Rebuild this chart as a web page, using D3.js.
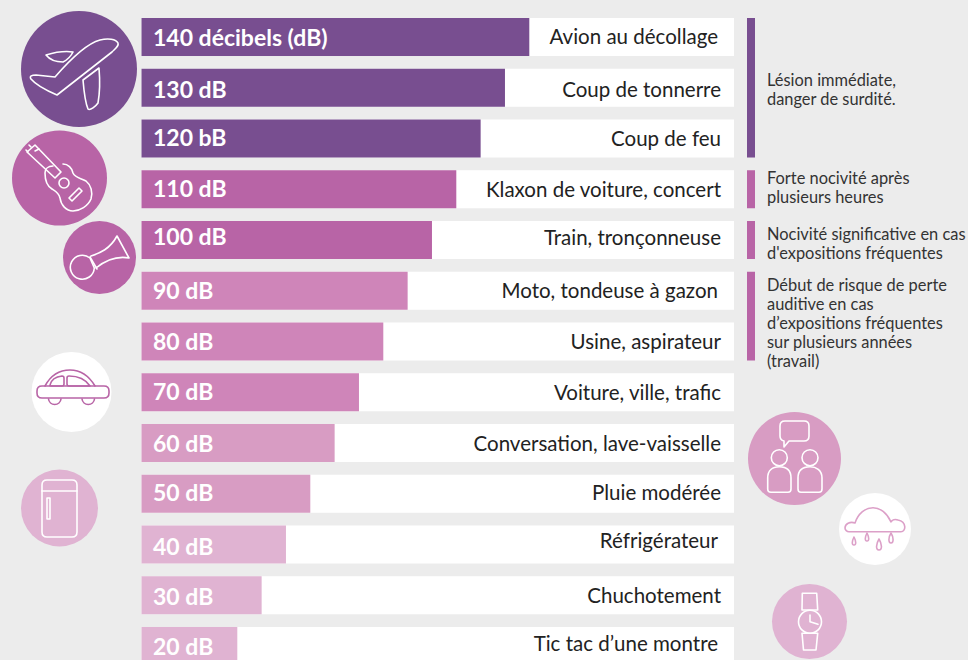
<!DOCTYPE html>
<html lang="fr">
<head>
<meta charset="utf-8">
<script src="https://cdn.jsdelivr.net/npm/d3@7"></script>
<style>
html, body { margin: 0; padding: 0; background: #ececec; overflow: hidden; }
text { font-family: "Lato", sans-serif; }
.icon { fill: none; stroke-linejoin: round; stroke-linecap: round; stroke-width: 1.6; }
</style>
</head>
<body>
<div id="chart"></div>
<script>
// data
var levels = [140, 130, 120, 110, 100, 90, 80, 70, 60, 50, 40, 30, 20];
var levelLabels = ["140 décibels (dB)", "130 dB", "120 bB", "110 dB", "100 dB", "90 dB", "80 dB",
	"70 dB", "60 dB", "50 dB", "40 dB", "30 dB", "20 dB"];
var sources = ["Avion au décollage", "Coup de tonnerre", "Coup de feu", "Klaxon de voiture, concert",
	"Train, tronçonneuse", "Moto, tondeuse à gazon", "Usine, aspirateur", "Voiture, ville, trafic",
	"Conversation, lave-vaisselle", "Pluie modérée", "Réfrigérateur", "Chuchotement", "Tic tac d’une montre"];
var barColors = ["#784e90", "#784e90", "#784e90", "#b864a6", "#b864a6", "#cf85b9", "#cf85b9",
	"#cf85b9", "#d89cc3", "#d89cc3", "#e0b3d2", "#e0b3d2", "#e0b3d2"];

// risk groups: first and last level of each bracket
var riskFrom = [140, 110, 100, 90];
var riskTo = [120, 110, 100, 80];
var riskColors = ["#784e90", "#b864a6", "#b864a6", "#b864a6"];
var riskLines = [
	["Lésion immédiate,", "danger de surdité."],
	["Forte nocivité après", "plusieurs heures"],
	["Nocivité significative en cas", "d'expositions fréquentes"],
	["Début de risque de perte", "auditive en cas", "d’expositions fréquentes", "sur plusieurs années", "(travail)"]
];

var width = 968, height = 660;
var rowLeft = 141.5, rowRight = 734;

// the labels were placed by hand in the original, they wander a little from row to row
var levelNudge = [1, 1.5, -1, -1, -3, 0, 0, -1, 1, -1, 2, 1, 1];
var sourceNudge = [0, 2, 0, 0, -2, 0, 0, 0, 1, -1, -4, 0, -2];
var sourceEnd = [718, 721, 721, 721, 721, 718, 721, 721, 721, 721, 718, 721, 718];
var riskNudge = [2, -2, 4, 7];

var svg = d3.select("#chart")
	.append("svg")
	.attr("width", width)
	.attr("height", height)
	.style("display", "block");

svg.append("rect")
	.attr("width", width)
	.attr("height", height)
	.attr("fill", "#ececec");

// the bars do not start at zero in the original, so the scale is anchored on the two end bars
var x = d3.scaleLinear()
	.domain([20, 140])
	.range([237.3, 529.3]);

var y = d3.scaleBand()
	.domain(levels)
	.range([18, 665])
	.paddingInner(0.251);

var rows = svg.selectAll("g.row")
	.data(levels)
	.enter()
	.append("g")
	.attr("class", "row")
	.attr("transform", function(d) { return "translate(0," + y(d) + ")"; });

rows.append("rect")
	.attr("x", rowLeft)
	.attr("width", rowRight - rowLeft)
	.attr("height", y.bandwidth())
	.attr("fill", "#fff");

rows.append("rect")
	.attr("x", rowLeft)
	.attr("width", function(d) { return x(d) - rowLeft; })
	.attr("height", y.bandwidth())
	.attr("fill", function(d, i) { return barColors[i]; });

rows.append("text")
	.attr("x", 153)
	.attr("y", function(d, i) { return y.bandwidth() / 2 + levelNudge[i]; })
	.attr("dy", "0.36em")
	.attr("fill", "#fff")
	.attr("font-size", 23)
	.attr("font-weight", 700)
	.text(function(d, i) { return levelLabels[i]; });

rows.append("text")
	.attr("x", function(d, i) { return sourceEnd[i]; })
	.attr("y", function(d, i) { return y.bandwidth() / 2 + sourceNudge[i]; })
	.attr("dy", "0.36em")
	.attr("text-anchor", "end")
	.attr("fill", "#222")
	.attr("font-size", 20.5)
	.text(function(d, i) { return sources[i]; });

// risk brackets on the right
var risks = svg.selectAll("g.risk")
	.data(riskFrom)
	.enter()
	.append("g")
	.attr("class", "risk");

risks.append("rect")
	.attr("x", 747)
	.attr("width", 8)
	.attr("y", function(d) { return y(d); })
	.attr("height", function(d, i) { return y(riskTo[i]) + y.bandwidth() - y(d); })
	.attr("fill", function(d, i) { return riskColors[i]; });

risks.each(function(d, i) {
	var mid = (y(d) + y(riskTo[i]) + y.bandwidth()) / 2 + riskNudge[i];
	var lines = riskLines[i];
	d3.select(this).selectAll("text")
		.data(lines)
		.enter()
		.append("text")
		.attr("x", 767)
		.attr("y", function(l, j) { return mid + (j - (lines.length - 1) / 2) * 19; })
		.attr("dy", "0.36em")
		.attr("fill", "#333")
		.attr("font-size", 16.4)
		.text(function(l) { return l; });
});

// pictograms
var icons = [
	{ cx: 79, cy: 69, r: 58, fill: "#784e90", stroke: "#fff", paths: [
		"M55 77 C68 62 85 44 100 40 C108 38 116 39 118 43 C119 46 116 48 112 52 L57 95 C50 92 36 85 31 79 C29 76 32 75 36 75 Z",
		"M46 55 C56 52 66 51 73 52 C71 56 67 60 63 62 C57 62 50 60 46 55 Z",
		"M99 68 L83 80 C84 92 85 102 88 109 C90 111 96 106 98 103 C100 92 100 80 99 68 Z"] },
	{ cx: 59.5, cy: 178, r: 47.5, fill: "#b864a6", stroke: "#fff", paths: [
		"M27 152 L35 145 L61 172 L55 178 Z",
		"M31 147 L29 145 M35 151 L39 149 M28 152 L26 150",
		"M53 166 C48 166 45 169 45 173 C45 180 47 186 52 189 C55 191 59 193 60 198 C61 205 66 211 73 211 C80 211 88 206 91 199 C93 192 91 185 86 181 C81 178 75 178 73 173 C72 168 68 164 63 164",
		"M69 183 A5 5 0 1 1 59 183 A5 5 0 1 1 69 183 Z",
		"M69 198 L79 188 L82 191 L72 201 Z"] },
	{ cx: 99.5, cy: 257.5, r: 36.5, fill: "#b864a6", stroke: "#fff", paths: [
		"M94.3 268 A12 12 0 1 1 90 258 Z",
		"M90 257 L97 269 M91 256 C100 253 110 249 117 236 L129 258 C118 256 106 260 96 268"] },
	{ cx: 71.5, cy: 392, r: 40, fill: "#fff", stroke: "#b864a6", paths: [
		"M42 386 H104 Q109 386 109 391 V393 Q109 398 104 398 H42 Q37 398 37 393 V391 Q37 386 42 386 Z",
		"M45 386 C52 373 62 370 70 370 C80 370 89 376 95 386",
		"M50 385 Q52 377 62 376 Q64 376 64 378 V384 Q64 386 62 386 H51 Q49.500 386 50 385 Z",
		"M67 378 Q67 376 69 376 C78 376 86 380 90 386 H69 Q67 386 67 384 Z",
		"M48.500 399 A6.300 6.300 0 0 0 61 399", "M82 399 A6.300 6.300 0 0 0 94.500 399"] },
	{ cx: 59.500, cy: 508, r: 38.500, fill: "#e0b3d2", stroke: "#fff", paths: [
		"M47 480 H72 Q77 480 77 485 V532 Q77 537 72 537 H47 Q42 537 42 532 V485 Q42 480 47 480 Z",
		"M42 491 H77", "M47 498 H50 V519 H47 Z"] },
	{ cx: 794.500, cy: 458.500, r: 46.500, fill: "#d89cc3", stroke: "#fff", paths: [
		"M785 421 H804 Q809 421 809 426 V436 Q809 441 804 441 H789 L784 447 L784 441 Q780 440 780 436 V426 Q780 421 785 421 Z",
		"M787.300 457.700 A8 8 0 1 1 771.300 457.700 A8 8 0 1 1 787.300 457.700 Z",
		"M818 457.700 A8 8 0 1 1 802 457.700 A8 8 0 1 1 818 457.700 Z",
		"M767.700 478 C767.700 470 773 466.700 779.300 466.700 C786 466.700 791 470 791 478 V489 Q791 492.300 788 492.300 H771 Q767.700 492.300 767.700 489 Z",
		"M798 478 C798 470 803 466.700 810 466.700 C816 466.700 822 470 822 478 V489 Q822 492.300 819 492.300 H801 Q798 492.300 798 489 Z"] },
	{ cx: 875, cy: 529, r: 36, fill: "#fff", stroke: "#dca0c8", paths: [
		"M849 531.700 H901 C906 531.700 907 522 898 520 C895 519 892 520 891 522 C887 513 880 507.700 873 507.700 C865 507.700 858 514 855 523 C850 521 845 524 845 528 C845 530 847 531.700 849 531.700 Z",
		"M854 537 C852 541 851.500 545 854 545 C856.500 545 856 541 854 537 Z",
		"M867 533 C865 537 864.500 541 867 541 C869.500 541 869 537 867 533 Z",
		"M879 539 C876 544 875.500 550 879 550 C882.500 550 882 544 879 539 Z",
		"M891 533 C888.500 537 888 543 891 543 C894 543 893.500 537 891 533 Z"] },
	{ cx: 809.500, cy: 621.500, r: 37.500, fill: "#e0b3d2", stroke: "#fff", paths: [
		"M802.300 593.300 H816.700 L817.700 610 H802 Z",
		"M802 633.300 H817.700 L816 650 H803.500 Z",
		"M821.500 621.700 A11.500 11.500 0 1 1 798.500 621.700 A11.500 11.500 0 1 1 821.500 621.700 Z",
		"M810 615 V621.700 L818 624.300"] }
];

var iconGroups = svg.selectAll("g.icon")
	.data(icons)
	.enter()
	.append("g")
	.attr("class", "icon");

iconGroups.append("circle")
	.attr("cx", function(d) { return d.cx; })
	.attr("cy", function(d) { return d.cy; })
	.attr("r", function(d) { return d.r; })
	.attr("fill", function(d) { return d.fill; })
	.attr("stroke", "none");

iconGroups.each(function(d) {
	d3.select(this).selectAll("path")
		.data(d.paths)
		.enter()
		.append("path")
		.attr("d", function(p) { return p; })
		.attr("stroke", d.stroke);
});
</script>
</body>
</html>
